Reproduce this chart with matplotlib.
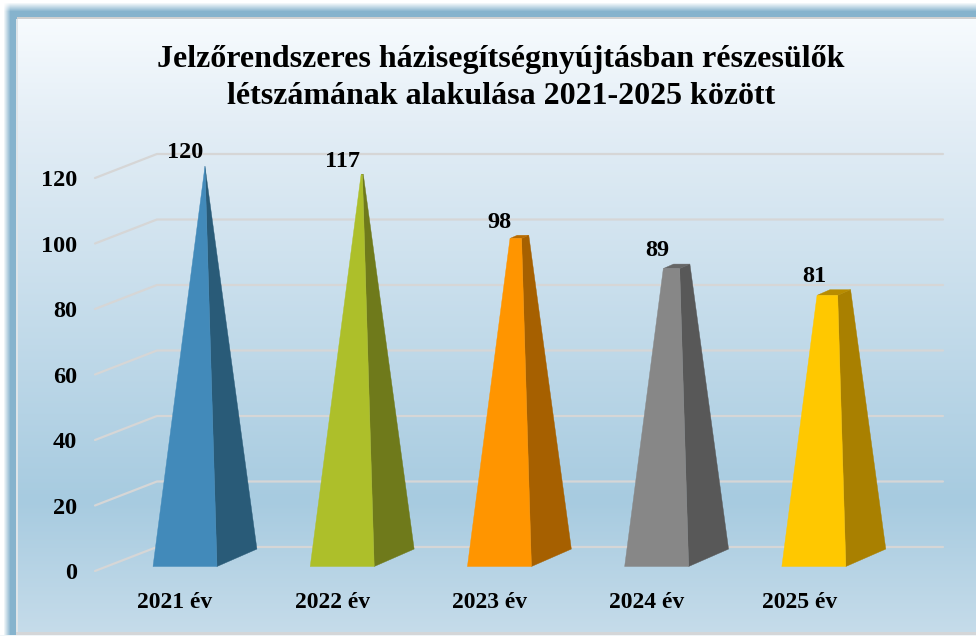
import numpy as np
import matplotlib
matplotlib.use('Agg')
import matplotlib.pyplot as plt
from matplotlib.patches import Polygon
from matplotlib.transforms import ScaledTranslation

plt.rcParams['font.family'] = ['Liberation Serif', 'DejaVu Serif']
plt.rcParams['font.weight'] = 'bold'

# data
years = ['2021 év', '2022 év', '2023 év', '2024 év', '2025 év']
values = [120, 117, 98, 89, 81]
y_ticks = [0, 20, 40, 60, 80, 100, 120]
front_colors = ['#428ABA', '#ADBF2A', '#FF9500', '#878787', '#FFC800']
side_colors = ['#295B78', '#6F7A1B', '#A66000', '#585858', '#A98000']
top_colors = ['#2F6A8E', '#7F8C20', '#B86B00', '#666666', '#B88C00']
title = 'Jelzőrendszeres házisegítségnyújtásban részesülők\nlétszámának alakulása 2021-2025 között'

W, H = 976, 636


def make_background():
    # white outside, blue band, then the gradient panel
    rows = np.arange(H)
    stops_y = [19, 120, 500, 634]
    stops_c = np.array([[247, 251, 254], [228, 238, 246], [167, 203, 224], [198, 220, 234]])
    panel = np.stack([np.interp(rows, stops_y, stops_c[:, k]) for k in range(3)], axis=1)
    img = np.repeat(panel[:, None, :], W, axis=1)

    band = np.array([134, 179, 205.0])
    white = np.array([255, 255, 255.0])
    # soft edge of the frame
    a_x = np.clip((np.arange(W) - 3) / 7.0, 0, 1)[None, :, None]
    a_y = np.clip((np.arange(H) - 2) / 9.0, 0, 1)[:, None, None]
    frame = white + (band - white) * a_x * a_y
    mask = np.zeros((H, W), dtype=bool)
    mask[:19, :] = True
    mask[:, :17] = True
    img[mask] = frame[mask]
    img[17:19, 17:] = [208, 208, 208]
    img[19:, 16:18] = [222, 228, 232]
    img[632:635, 16:] = [212, 214, 216]
    img[635:, :] = [240, 245, 248]
    return img.astype(np.uint8)


def draw_pyramid(ax, i, value, front, side, top):
    # true pyramid cut off at value, apex sits at peak height
    xl = i - 0.14
    xr = i + 0.267
    dx = 0.254
    y_front = 1.37
    y_back = 6.7
    peak = 119.6
    base = np.array([[xl, y_front], [xr, y_front], [xr + dx, y_back], [xl + dx, y_back]])
    apex = np.array([base[:, 0].mean(), base[:, 1].mean() + peak])
    t = min(value / peak, 1.0)
    cut = base + (apex - base) * t
    ax.add_patch(Polygon([base[1], base[2], cut[2], cut[1]], closed=True, fc=side, ec=side, lw=0.3, zorder=3))
    ax.add_patch(Polygon(cut, closed=True, fc=top, ec=top, lw=0.3, zorder=3))
    ax.add_patch(Polygon([base[0], base[1], cut[1], cut[0]], closed=True, fc=front, ec=front, lw=0.3, zorder=4))
    return cut[:, 1].max()


fig = plt.figure(figsize=(W / 100, H / 100), dpi=100)

bg = fig.add_axes([0, 0, 1, 1], zorder=0)
bg.imshow(make_background(), aspect='auto', interpolation='bilinear')
bg.axis('off')

ax = fig.add_axes([95 / W, 1 - 571 / H, (943 - 95) / W, (571 - 154) / H], zorder=1)
ax.patch.set_alpha(0)
x_lim = (-0.509, 4.885)
ax.set_xlim(*x_lim)
ax.set_ylim(0, 127.33)
for spine in ax.spines.values():
    spine.set_visible(False)

ax.set_xticks(range(len(years)))
ax.set_xticklabels(years, fontsize=17)
ax.set_yticks(y_ticks)
ax.tick_params(axis='y', length=0, pad=13, labelsize=17.5)
ax.tick_params(axis='x', length=0, pad=15)

# last label sits a little left of its bar in the original
last = ax.get_xticklabels()[-1]
last.set_transform(last.get_transform() + ScaledTranslation(-0.04, 0, fig.dpi_scale_trans))

# floor and wall lines
for tick in y_ticks:
    ax.plot([x_lim[0], x_lim[0] + 0.394, x_lim[1]], [tick, tick + 7.33, tick + 7.33],
            color='#D6D6D6', lw=1.6, clip_on=False, zorder=2, solid_capstyle='round')

for i, value in enumerate(values):
    top_y = draw_pyramid(ax, i, value, front_colors[i], side_colors[i], top_colors[i])
    ax.annotate(str(value), xy=(i, top_y), xytext=(7.5, 9.5), textcoords='offset points',
                ha='center', va='center', fontsize=17.5, zorder=5, annotation_clip=False)

fig.text(501 / W, 1 - 78 / H, title, ha='center', va='center', fontsize=23,
         linespacing=1.35, zorder=3)

fig.savefig('out.png', dpi=100)
